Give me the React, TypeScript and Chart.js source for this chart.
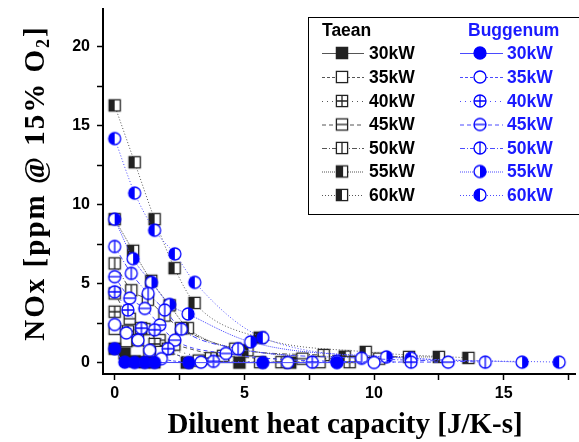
import React, { useEffect, useRef } from 'react';
import { Chart, registerables } from 'chart.js';
Chart.register(...registerables);

// ---- data ----
const powerLabels = ['30kW', '35kW', '40kW', '45kW', '50kW', '55kW', '60kW'];
const xTickLabels = ['0', '5', '10', '15'];
const yTickLabels = ['0', '5', '10', '15', '20'];

const taean30X = [0, 0.38, 0.77, 1.15, 1.53, 2.78, 4.81, 6.77];
const taean30Y = [0.9, 0.6, 0.1, 0.05, 0.04, 0.02, 0.02, 0.02];
const taean35X = [0, 0.45, 0.89, 1.34, 1.79, 3.24, 5.61, 7.9];
const taean35Y = [2.16, 1.38, 1.44, 0.6, 0.7, 0.15, 0.05, 0.05];
const taean40X = [0, 0.51, 1.02, 1.54, 2.05, 3.71, 6.43, 9.06];
const taean40Y = [3.24, 2.0, 2.2, 1.2, 0.9, 0.3, 0.05, 0.05];
const taean45X = [0, 0.58, 1.15, 1.73, 2.3, 4.18, 7.24, 10.2];
const taean45Y = [4.4, 2.8, 2.14, 1.44, 1.16, 0.45, 0.27, 0.27];
const taean50X = [0, 0.64, 1.28, 1.92, 2.56, 4.65, 8.06, 11.35];
const taean50Y = [6.3, 4.6, 4.0, 3.0, 2.2, 0.9, 0.5, 0.38];
const taean55X = [0, 0.71, 1.41, 2.12, 2.82, 5.12, 8.87, 12.5];
const taean55Y = [9.1, 7.1, 5.2, 3.65, 2.2, 0.8, 0.4, 0.38];
const taean60X = [0, 0.77, 1.54, 2.31, 3.08, 5.59, 9.68, 13.64];
const taean60Y = [16.3, 12.7, 9.1, 6.0, 3.8, 1.6, 0.7, 0.32];

const bugg30X = [0, 0.39, 0.77, 1.16, 1.54, 2.86, 5.71, 8.57];
const bugg30Y = [0.9, 0.05, 0.03, 0.03, 0.03, 0.02, 0.02, 0.02];
const bugg35X = [0, 0.45, 0.9, 1.35, 1.8, 3.33, 6.67, 10.0];
const bugg35Y = [2.43, 1.9, 1.44, 0.8, 0.27, 0.05, 0.03, 0.03];
const bugg40X = [0, 0.51, 1.03, 1.54, 2.06, 3.81, 7.62, 11.43];
const bugg40Y = [4.5, 3.35, 2.2, 2.1, 0.9, 0.1, 0.05, 0.05];
const bugg45X = [0, 0.58, 1.16, 1.74, 2.32, 4.29, 8.57, 12.86];
const bugg45Y = [5.46, 4.1, 3.45, 2.4, 1.44, 0.6, 0.1, 0.05];
const bugg50X = [0, 0.64, 1.29, 1.93, 2.57, 4.76, 9.52, 14.29];
const bugg50Y = [7.37, 5.67, 4.4, 3.35, 2.14, 0.9, 0.3, 0.05];
const bugg55X = [0, 0.71, 1.42, 2.12, 2.83, 5.24, 10.48, 15.71];
const bugg55Y = [9.1, 6.6, 5.1, 3.7, 3.1, 1.33, 0.38, 0.05];
const bugg60X = [0, 0.77, 1.54, 2.32, 3.09, 5.71, 11.43, 17.14];
const bugg60Y = [14.2, 10.75, 8.4, 6.9, 5.1, 1.6, 0.3, 0.05];

const taeanXs = [taean30X, taean35X, taean40X, taean45X, taean50X, taean55X, taean60X];
const taeanYs = [taean30Y, taean35Y, taean40Y, taean45Y, taean50Y, taean55Y, taean60Y];
const buggXs = [bugg30X, bugg35X, bugg40X, bugg45X, bugg50X, bugg55X, bugg60X];
const buggYs = [bugg30Y, bugg35Y, bugg40Y, bugg45Y, bugg50Y, bugg55Y, bugg60Y];

// ---- styles ----
const dashes: number[][] = [[], [3, 2], [1, 4], [4, 3], [5, 2, 1, 2], [1, 1], [1, 2]];
const markerKinds = ['full', 'open', 'plus', 'hline', 'vline', 'halfA', 'halfB'];
const TAEAN_COLOR = '#222222';
const TAEAN_LINE = '#555555';
const BUGG_COLOR = '#0000ff';
const BUGG_LINE = '#4a4aff';
const BUGG_TEXT = '#1a1aff';

function makeMarker(shape: 'sq' | 'ci', kind: string, color: string): HTMLCanvasElement {
  const s = 16;
  const c = document.createElement('canvas');
  c.width = s;
  c.height = s;
  const g = c.getContext('2d')!;
  const m = s / 2;
  g.lineWidth = 1.3;
  g.strokeStyle = color;
  if (shape === 'sq') {
    const h = 5.6;
    g.fillStyle = '#fff';
    g.fillRect(m - h, m - h, 2 * h, 2 * h);
    g.fillStyle = color;
    if (kind === 'full') g.fillRect(m - h, m - h, 2 * h, 2 * h);
    if (kind === 'halfA') g.fillRect(m - h, m - h, h * 1.2, 2 * h);
    if (kind === 'halfB') g.fillRect(m - h, m - h, h, 2 * h);
    g.beginPath();
    if (kind === 'plus' || kind === 'hline') { g.moveTo(m - h, m); g.lineTo(m + h, m); }
    if (kind === 'plus' || kind === 'vline') { g.moveTo(m, m - h); g.lineTo(m, m + h); }
    g.stroke();
    g.strokeRect(m - h, m - h, 2 * h, 2 * h);
  } else {
    const r = 6;
    g.fillStyle = '#fff';
    g.beginPath(); g.arc(m, m, r, 0, Math.PI * 2); g.fill();
    g.fillStyle = color;
    if (kind === 'full') { g.beginPath(); g.arc(m, m, r, 0, Math.PI * 2); g.fill(); }
    if (kind === 'halfA') { g.beginPath(); g.moveTo(m, m - r); g.arc(m, m, r, -Math.PI / 2, Math.PI / 2); g.closePath(); g.fill(); }
    if (kind === 'halfB') { g.beginPath(); g.moveTo(m, m - r); g.arc(m, m, r, -Math.PI / 2, Math.PI / 2, true); g.closePath(); g.fill(); }
    g.beginPath();
    if (kind === 'plus' || kind === 'hline') { g.moveTo(m - r, m); g.lineTo(m + r, m); }
    if (kind === 'plus' || kind === 'vline') { g.moveTo(m, m - r); g.lineTo(m, m + r); }
    g.stroke();
    g.beginPath(); g.arc(m, m, r, 0, Math.PI * 2); g.stroke();
  }
  return c;
}

const X_TITLE = 'Diluent heat capacity [J/K-s]';

export default function App() {
  const ref = useRef<HTMLCanvasElement | null>(null);
  useEffect(() => {
    if (!ref.current) return;
    const taeanMarkers = markerKinds.map((k) => makeMarker('sq', k, TAEAN_COLOR));
    const buggMarkers = markerKinds.map((k) => makeMarker('ci', k, BUGG_COLOR));

    const datasets: any[] = [];
    powerLabels.forEach((p, i) => {
      datasets.push({
        label: 'Taean ' + p,
        data: taeanXs[i].map((x, j) => ({ x, y: taeanYs[i][j] })),
        showLine: true,
        borderColor: TAEAN_LINE,
        borderWidth: 1,
        borderDash: dashes[i],
        cubicInterpolationMode: 'monotone',
        pointStyle: taeanMarkers[i],
        pointRadius: 5,
        order: 2,
      });
    });
    powerLabels.forEach((p, i) => {
      datasets.push({
        label: 'Buggenum ' + p,
        data: buggXs[i].map((x, j) => ({ x, y: buggYs[i][j] })),
        showLine: true,
        borderColor: BUGG_LINE,
        borderWidth: 1,
        borderDash: dashes[i],
        cubicInterpolationMode: 'monotone',
        pointStyle: buggMarkers[i],
        pointRadius: 5,
        order: 1,
      });
    });

    const overlay = {
      id: 'overlay',
      afterDraw(chart: any) {
        const ctx = chart.ctx as CanvasRenderingContext2D;
        ctx.save();
        // x title
        ctx.fillStyle = '#000';
        ctx.font = 'bold 29px "Liberation Serif", "Times New Roman", serif';
        ctx.textAlign = 'center';
        ctx.textBaseline = 'alphabetic';
        ctx.fillText(X_TITLE, 345, 433);
        // y title with subscript
        const main = 'bold 29px "Liberation Serif", "Times New Roman", serif';
        const small = 'bold 18px "Liberation Serif", "Times New Roman", serif';
        const p1 = 'NOx [ppm @ 15% O';
        const p2 = '2';
        const p3 = ']';
        (ctx as any).letterSpacing = '2px';
        ctx.font = main;
        const w1 = ctx.measureText(p1).width;
        const w3 = ctx.measureText(p3).width;
        ctx.font = small;
        const w2 = ctx.measureText(p2).width;
        const total = w1 + w2 + w3;
        ctx.save();
        ctx.translate(44, 183);
        ctx.rotate(-Math.PI / 2);
        ctx.textAlign = 'left';
        let x0 = -total / 2;
        ctx.font = main;
        ctx.fillText(p1, x0, 0);
        x0 += w1;
        ctx.font = small;
        ctx.fillText(p2, x0, 5);
        x0 += w2;
        ctx.font = main;
        ctx.fillText(p3, x0, 0);
        ctx.restore();
        (ctx as any).letterSpacing = '0px';

        // legend box
        ctx.strokeStyle = '#000';
        ctx.lineWidth = 1;
        ctx.setLineDash([]);
        ctx.strokeRect(308.5, 17.5, 280, 197);
        ctx.font = 'bold 17.5px "Liberation Sans", Arial, sans-serif';
        ctx.textAlign = 'left';
        ctx.textBaseline = 'middle';
        ctx.fillStyle = '#000';
        ctx.fillText('Taean', 322, 31);
        ctx.fillStyle = BUGG_TEXT;
        ctx.fillText('Buggenum', 468, 31);
        const rowY = [53, 77, 101, 124.5, 148, 171.5, 195];
        powerLabels.forEach((p, i) => {
          const y = rowY[i];
          ctx.lineWidth = 1;
          ctx.setLineDash(dashes[i]);
          ctx.strokeStyle = TAEAN_LINE;
          ctx.beginPath(); ctx.moveTo(322, y + 0.5); ctx.lineTo(364, y + 0.5); ctx.stroke();
          ctx.strokeStyle = BUGG_LINE;
          ctx.beginPath(); ctx.moveTo(460, y + 0.5); ctx.lineTo(503, y + 0.5); ctx.stroke();
          ctx.setLineDash([]);
          const tm = taeanMarkers[i];
          ctx.drawImage(tm, 342 - tm.width / 2, y - tm.height / 2);
          const bm = buggMarkers[i];
          ctx.drawImage(bm, 480 - bm.width / 2, y - bm.height / 2);
          ctx.fillStyle = '#000';
          ctx.fillText(p, 369, y + 1);
          ctx.fillStyle = BUGG_TEXT;
          ctx.fillText(p, 507, y + 1);
        });
        ctx.restore();
      },
    };

    const tickFont = { family: '"Liberation Sans", Arial, sans-serif', weight: 'bold' as const, size: 16 };
    const chart = new Chart(ref.current, {
      type: 'scatter',
      data: { datasets },
      options: {
        animation: false,
        responsive: false,
        maintainAspectRatio: false,
        devicePixelRatio: 1,
        layout: { padding: { left: 43, right: 4, top: 9, bottom: 28 }, autoPadding: false },
        plugins: { legend: { display: false }, tooltip: { enabled: false } },
        scales: {
          x: {
            type: 'linear',
            min: -0.45,
            max: 17.75,
            afterFit: (s: any) => { s.height = 40; s.paddingLeft = 0; s.paddingRight = 0; },
            border: { display: true, color: '#000', width: 2 },
            grid: { display: true, drawOnChartArea: false, drawTicks: true, tickLength: 6, tickColor: '#000', tickWidth: 1.5 },
            ticks: {
              stepSize: 2.5,
              includeBounds: false,
              autoSkip: false,
              maxRotation: 0,
              padding: 4,
              color: '#000',
              font: tickFont,
              callback: (v: any) => (xTickLabels.includes(String(v)) ? String(v) : ''),
            },
          },
          y: {
            type: 'linear',
            min: -0.7,
            max: 22.4,
            afterFit: (s: any) => { s.width = 60; s.paddingTop = 0; s.paddingBottom = 0; },
            border: { display: true, color: '#000', width: 2 },
            grid: { display: true, drawOnChartArea: false, drawTicks: true, tickLength: 6, tickColor: '#000', tickWidth: 1.5 },
            ticks: {
              stepSize: 2.5,
              includeBounds: false,
              autoSkip: false,
              padding: 7,
              color: '#000',
              font: tickFont,
              callback: (v: any) => (yTickLabels.includes(String(v)) ? String(v) : ''),
            },
          },
        },
      },
      plugins: [overlay],
    } as any);
    return () => chart.destroy();
  }, []);

  return (
    <div style={{ position: 'fixed', left: 0, top: 0, width: 579, height: 442, background: '#fff' }}>
      <canvas ref={ref} width={579} height={442} style={{ display: 'block', width: 579, height: 442 }} />
    </div>
  );
}
